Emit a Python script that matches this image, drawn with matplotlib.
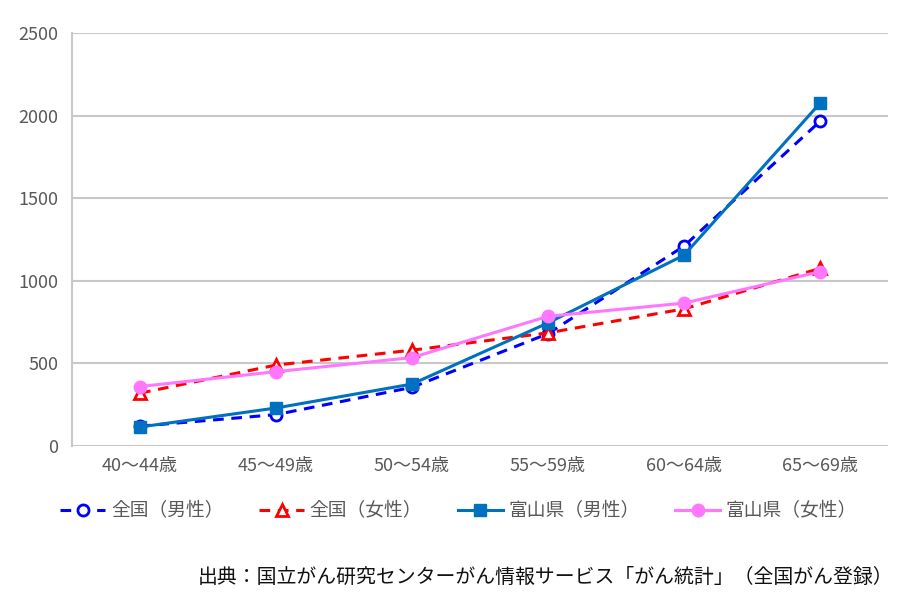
import matplotlib.pyplot as plt

plt.rcParams['font.family'] = ['Noto Sans CJK JP', 'DejaVu Sans']

ages = ['40～44歳', '45～49歳', '50～54歳', '55～59歳', '60～64歳', '65～69歳']
zenkoku_m = [120, 190, 355, 680, 1210, 1965]
zenkoku_f = [320, 490, 580, 685, 830, 1075]
toyama_m = [115, 230, 375, 745, 1155, 2075]
toyama_f = [360, 450, 535, 785, 865, 1055]

fig = plt.figure(figsize=(9.12, 6.05), dpi=100)
ax = fig.add_axes([72 / 912, 1 - 446 / 605, 816 / 912, 413 / 605])

x = range(len(ages))
ax.plot(x, zenkoku_m, color='#0000FF', ls=(0, (3.5, 2.5)), lw=2.2, marker='o',
        mfc='white', mec='#0000FF', mew=2, ms=8, label='全国（男性）', zorder=3)
ax.plot(x, zenkoku_f, color='#FF0000', ls=(0, (3.5, 2.5)), lw=2.2, marker='^',
        mfc='white', mec='#FF0000', mew=2, ms=8, label='全国（女性）', zorder=3)
ax.plot(x, toyama_m, color='#0070C0', lw=2.2, marker='s', ms=8,
        label='富山県（男性）', zorder=4)
ax.plot(x, toyama_f, color='#FF77FF', lw=2.2, marker='o', ms=9,
        label='富山県（女性）', zorder=4)

ax.set_xlim(-0.5, 5.5)
ax.set_ylim(0, 2500)
ax.set_yticks(range(0, 2501, 500))
ax.set_xticks(list(x))
ax.set_xticklabels(ages)
ax.grid(axis='y', color='#C8C8C8', lw=1.5)
ax.set_axisbelow(True)
for s in ['top', 'right', 'bottom']:
    ax.spines[s].set_visible(False)
ax.spines['left'].set_color('#C8C8C8')
ax.spines['left'].set_linewidth(1.5)
ax.tick_params(length=0, labelsize=13, colors='#595959', pad=8)
ax.tick_params(axis='y', pad=10)

fig.legend(loc='center', bbox_to_anchor=(0.503, 1 - 511 / 605), ncol=4, frameon=False,
           fontsize=13.5, handlelength=2.4, handletextpad=0.3, columnspacing=1.9,
           labelcolor='#595959')

fig.text(0.98, 1 - 577 / 605, '出典：国立がん研究センターがん情報サービス「がん統計」（全国がん登録）',
         ha='right', va='center', fontsize=14.3, color='#111111')

fig.savefig('out.png', dpi=100)
